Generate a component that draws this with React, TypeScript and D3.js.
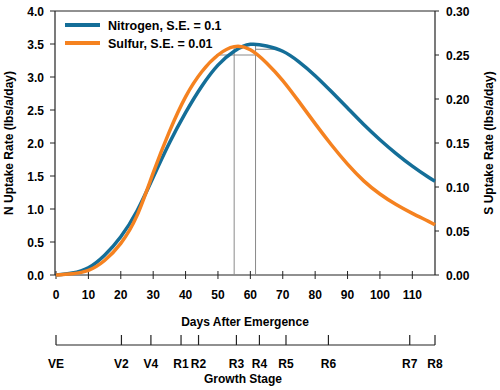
import React from "react";
import * as d3 from "d3";

const days = [0, 5, 10, 15, 20, 25, 30, 35, 40, 45, 50, 55, 60, 65, 70, 75, 80, 85, 90, 95, 100, 105, 110, 115, 117];
const nitrogen = [0, 0.03, 0.11, 0.3, 0.58, 0.97, 1.48, 2.0, 2.46, 2.86, 3.18, 3.39, 3.495, 3.47, 3.39, 3.23, 3.02, 2.78, 2.53, 2.28, 2.05, 1.84, 1.65, 1.48, 1.42];
const sulfur = [0, 0.0015, 0.0053, 0.0165, 0.036, 0.0675, 0.116, 0.163, 0.2025, 0.231, 0.25, 0.2595, 0.256, 0.241, 0.221, 0.197, 0.172, 0.148, 0.126, 0.107, 0.092, 0.08, 0.07, 0.061, 0.057];

const leftTicks = [0, 0.5, 1, 1.5, 2, 2.5, 3, 3.5, 4];
const rightTicks = [0, 0.05, 0.1, 0.15, 0.2, 0.25, 0.3];
const xTicks = [0, 10, 20, 30, 40, 50, 60, 70, 80, 90, 100, 110];

const stageNames = ["VE", "V2", "V4", "R1", "R2", "R3", "R4", "R5", "R6", "R7", "R8"];
const stageDays = [0, 20.2, 29.3, 38.6, 44, 55.7, 62.8, 71, 84.1, 109.2, 117];

// peak markers
const sPeakDay = 55;
const nPeakDay = 61.6;
const sPeakVal = 0.259;
const nPeakVal = 3.5;
const sBand = [49.4, 61.6]; // at S = 0.25
const sBandVal = 0.25;
const nBand = [61.6, 69]; // at N = 3.42
const nBandVal = 3.42;

const legendItems = ["Nitrogen, S.E. = 0.1", "Sulfur, S.E. = 0.01"];
const BLUE = "#146e98";
const ORANGE = "#f58220";

export default function App() {
  const left = 55, right = 435, top = 11, bottom = 275;
  const x = d3.scaleLinear().domain([0, 117]).range([left + 1, right]);
  const yL = d3.scaleLinear().domain([0, 4]).range([bottom, top]);
  const yR = d3.scaleLinear().domain([0, 0.3]).range([bottom, top]);
  const font = "'Liberation Sans', Arial, sans-serif";

  const nLine = d3.line<number>().x((_, i) => x(days[i])).y((d) => yL(d)).curve(d3.curveNatural);
  const sLine = d3.line<number>().x((_, i) => x(days[i])).y((d) => yR(d)).curve(d3.curveNatural);

  const stageY = 345;
  const gray = "#8a8a8a";

  return (
    <svg width={500} height={390} style={{ position: "absolute", left: 0, top: 0, background: "#fff" }} fontFamily={font} fontWeight="bold" fontSize={12}>
      {/* frame */}
      <line x1={left} x2={right} y1={top} y2={top} stroke="#222" strokeWidth={1} />
      <line x1={left} x2={left} y1={top} y2={bottom} stroke="#222" strokeWidth={1.2} />
      <line x1={right} x2={right} y1={top} y2={bottom} stroke="#222" strokeWidth={1.2} />
      <line x1={left} x2={right} y1={bottom} y2={bottom} stroke="#222" strokeWidth={1.2} />

      {leftTicks.map((t) => (
        <g key={"l" + t}>
          <line x1={left - 5} x2={left} y1={yL(t)} y2={yL(t)} stroke="#222" />
          <text x={44} y={yL(t) + 4.5} textAnchor="end">{t.toFixed(1)}</text>
        </g>
      ))}
      {rightTicks.map((t) => (
        <g key={"r" + t}>
          <line x1={right} x2={right + 4} y1={yR(t)} y2={yR(t)} stroke="#222" />
          <text x={446} y={yR(t) + 4.5} textAnchor="start">{t.toFixed(2)}</text>
        </g>
      ))}
      {xTicks.map((t) => (
        <g key={"x" + t}>
          <line x1={x(t)} x2={x(t)} y1={bottom - 4} y2={bottom + 4} stroke="#222" />
          <text x={x(t)} y={299} textAnchor="middle">{t}</text>
        </g>
      ))}

      <text transform={`translate(13,143) rotate(-90)`} textAnchor="middle">N Uptake Rate (lbs/a/day)</text>
      <text transform={`translate(493,143) rotate(-90)`} textAnchor="middle">S Uptake Rate (lbs/a/day)</text>
      <text x={245} y={326} textAnchor="middle">Days After Emergence</text>

      {/* reference lines */}
      <line x1={x(sPeakDay)} x2={x(sPeakDay)} y1={bottom} y2={yR(sPeakVal)} stroke={gray} strokeWidth={1} />
      <line x1={x(nPeakDay)} x2={x(nPeakDay)} y1={bottom} y2={yL(nPeakVal)} stroke={gray} strokeWidth={1} />
      <line x1={x(sBand[0])} x2={x(sBand[1])} y1={yR(sBandVal)} y2={yR(sBandVal)} stroke={gray} strokeWidth={1} />
      <line x1={x(nBand[0])} x2={x(nBand[1])} y1={yL(nBandVal)} y2={yL(nBandVal)} stroke={gray} strokeWidth={1} />

      <path d={nLine(nitrogen) || ""} fill="none" stroke={BLUE} strokeWidth={3.5} />
      <path d={sLine(sulfur) || ""} fill="none" stroke={ORANGE} strokeWidth={3.5} />

      {/* legend */}
      {legendItems.map((name, i) => (
        <g key={name}>
          <line x1={65} x2={100} y1={25 + i * 18} y2={25 + i * 18} stroke={i === 0 ? BLUE : ORANGE} strokeWidth={4} />
          <text x={108} y={29.5 + i * 18} fontSize={12.5}>{name}</text>
        </g>
      ))}

      {/* growth stage axis */}
      <line x1={x(0)} x2={x(117)} y1={stageY} y2={stageY} stroke="#222" strokeWidth={1.2} />
      {stageNames.map((s, i) => (
        <g key={s}>
          <line x1={x(stageDays[i])} x2={x(stageDays[i])} y1={stageY - 10} y2={stageY} stroke="#222" strokeWidth={1.2} />
          <text x={x(stageDays[i])} y={368} textAnchor="middle">{s}</text>
        </g>
      ))}
      <text x={243} y={383} textAnchor="middle">Growth Stage</text>
    </svg>
  );
}
